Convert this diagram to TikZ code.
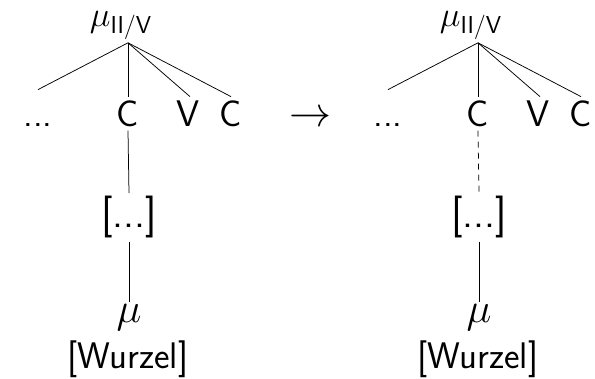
\documentclass[tikz,border=0pt]{standalone}
\usepackage{fix-cm}
\usepackage{amsmath}
\tikzset{leaf/.style={anchor=base, inner sep=3pt, text height=27pt,
      font=\fontsize{37}{44}\selectfont\sffamily}}
\tikzset{head/.style={anchor=base, inner sep=2pt,
      font=\fontsize{35}{42}\selectfont\sffamily}}
\tikzset{big/.style={anchor=base, inner sep=3pt,
      font=\fontsize{42}{50}\selectfont\sffamily}}
\tikzset{weak/.style={dash pattern=on 6pt off 5pt}}

\begin{document}
\begin{tikzpicture}[x=1pt,y=-1pt,line width=0.75pt]
    \useasboundingbox (0,0) rectangle (595,379);

    % left tree
    \node[head] (muL) at (121,27) {$\mu_{\mathsf{II/V}}$};
    \coordinate (apexL) at ([xshift=7pt,yshift=-1pt]muL.south);
    \node[leaf,text height=34pt] (dotsL) at (38,127) {...};
    \node[leaf] (c1L) at (128,127) {C};
    \node[leaf] (vL) at (188,127) {V};
    \node[leaf] (c2L) at (231,127) {C};
    \node[big] (brkL) at (129,228) {[...]};
    \node[big] (rootL) at (129,323) {$\mu$};
    \node[leaf] (wurzL) at (128,369) {[Wurzel]};
    \draw (apexL) -- (dotsL.north);
    \draw (apexL) -- (c1L.north);
    \draw (apexL) -- ([xshift=2pt]vL.north);
    \draw (apexL) -- (c2L.north);
    \draw (c1L.south) -- (brkL.north);
    \draw (brkL.south) -- (rootL.north);

    \node[big] (arrow) at (310,127) {$\rightarrow$};

    % right tree
    \node[head] (muR) at (471,27) {$\mu_{\mathsf{II/V}}$};
    \coordinate (apexR) at ([xshift=7pt,yshift=-1pt]muR.south);
    \node[leaf,text height=34pt] (dotsR) at (388,127) {...};
    \node[leaf] (c1R) at (478,127) {C};
    \node[leaf] (vR) at (538,127) {V};
    \node[leaf] (c2R) at (581,127) {C};
    \node[big] (brkR) at (479,228) {[...]};
    \node[big] (rootR) at (479,323) {$\mu$};
    \node[leaf] (wurzR) at (478,369) {[Wurzel]};
    \draw (apexR) -- (dotsR.north);
    \draw (apexR) -- (c1R.north);
    \draw (apexR) -- ([xshift=2pt]vR.north);
    \draw (apexR) -- (c2R.north);
    \draw[weak] (c1R.south) -- (brkR.north);
    \draw (brkR.south) -- (rootR.north);
  \end{tikzpicture}
\end{document}
